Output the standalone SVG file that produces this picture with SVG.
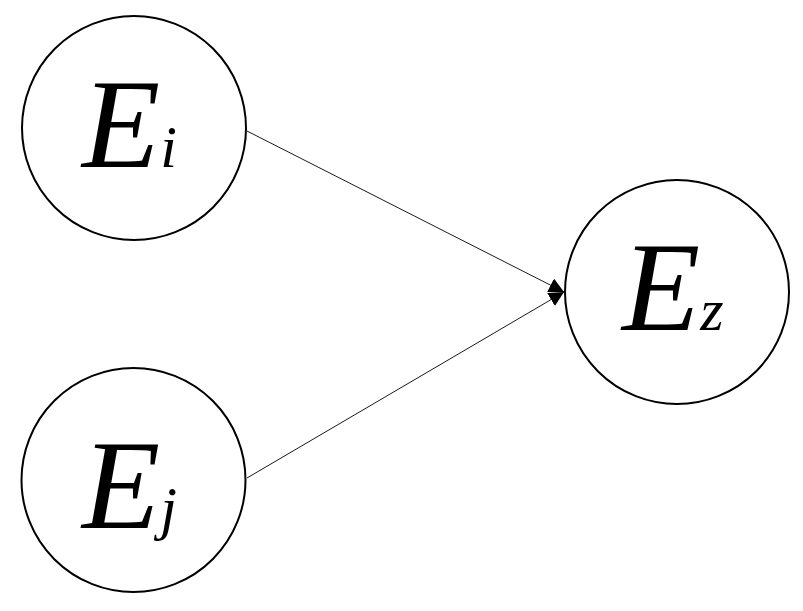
<svg xmlns="http://www.w3.org/2000/svg" width="803" height="611" viewBox="0 0 803 611">
<style>
.node circle{fill:#fff;stroke:#000;stroke-width:2}
.lbl{font-family:"Liberation Serif","Times New Roman",serif;font-style:italic;fill:#000}
.big{font-size:128px}
.sub{font-size:60px}
.conn{stroke:#000;stroke-width:0.9;fill:none;marker-end:url(#arr)}
</style>
<defs>
<marker id="arr" viewBox="0 0 15 15" refX="15" refY="7.5" markerWidth="15" markerHeight="15" markerUnits="userSpaceOnUse" orient="auto">
<path d="M0,0 L15,7.5 L0,15 Z" fill="#000"/>
</marker>
</defs>
<rect width="803" height="611" fill="#fff"/>
<g id="connectors">
<line class="conn" x1="247" y1="131" x2="564" y2="292"/>
<line class="conn" x1="247" y1="478" x2="564" y2="292"/>
</g>
<g id="node-Ei" class="node">
<circle cx="134" cy="128" r="112"/>
<text class="lbl" x="82" y="167"><tspan class="big">E</tspan><tspan class="sub">i</tspan></text>
</g>
<g id="node-Ej" class="node">
<circle cx="133.5" cy="480" r="112"/>
<text class="lbl" x="82" y="528"><tspan class="big">E</tspan><tspan class="sub">j</tspan></text>
</g>
<g id="node-Ez" class="node">
<circle cx="677" cy="292" r="112"/>
<text class="lbl" x="622" y="330"><tspan class="big">E</tspan><tspan class="sub">z</tspan></text>
</g>
</svg>
